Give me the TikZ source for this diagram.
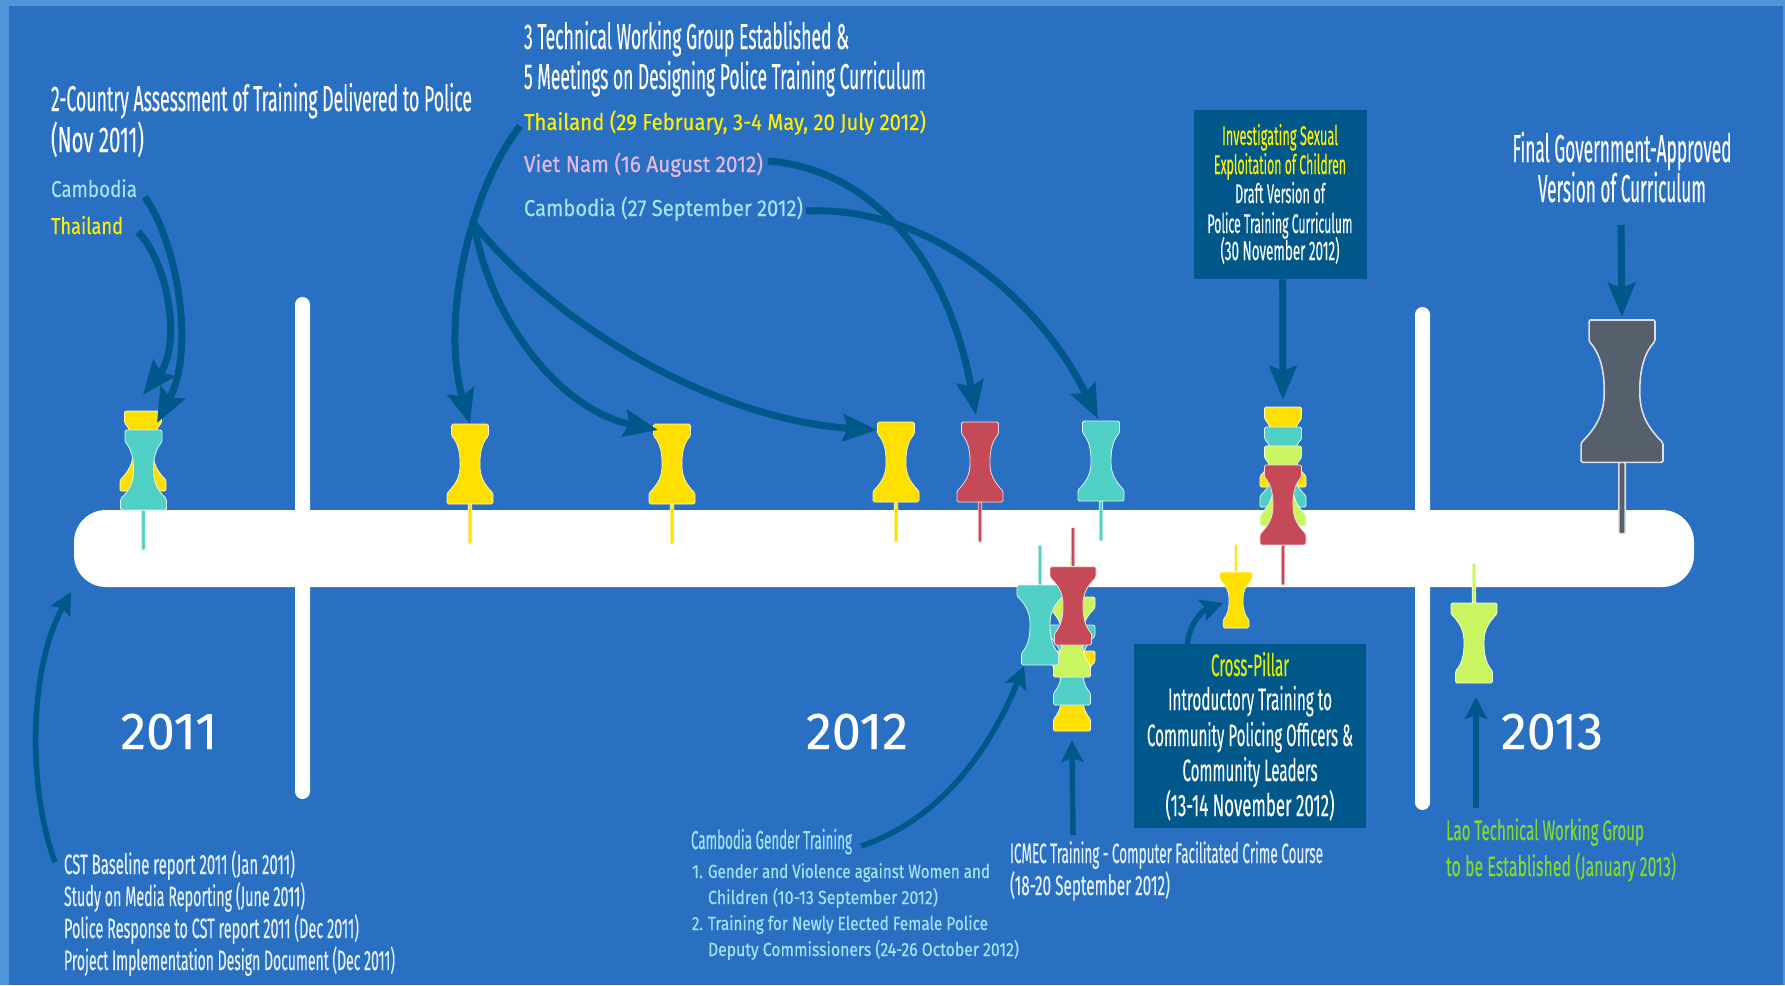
\documentclass[tikz,border=0pt]{standalone}
\usepackage{fontspec}
\usepackage{graphicx}
\setmainfont[FakeBold=0.25]{Fira Sans}
\usetikzlibrary{arrows.meta}
\definecolor{frameblue}{HTML}{5096D8}
\definecolor{bgblue}{HTML}{2970C2}
\definecolor{arrowblue}{HTML}{00588A}
\definecolor{pinyellow}{HTML}{FFE000}
\definecolor{pinteal}{HTML}{50D0C4}
\definecolor{pinlime}{HTML}{C8F560}
\definecolor{pinred}{HTML}{C44A58}
\definecolor{pingrey}{HTML}{55606C}
\definecolor{txtblue}{HTML}{A4E4F6}
\definecolor{txtyellow}{HTML}{FFF000}
\definecolor{txtpink}{HTML}{E8B8E4}
\definecolor{txtpale}{HTML}{E4F2FF}
\definecolor{txtlime}{HTML}{E4F000}
\definecolor{txtgreen}{HTML}{86D82C}
\tikzset{
  bar/.style={fill=white,draw=none},
  darkbox/.style={fill=arrowblue,draw=none,inner sep=0pt,anchor=north west},
  flow/.style={draw=arrowblue,line width=7pt,-{Stealth[length=34pt,width=27pt,inset=5pt]}},
  flowsmall/.style={draw=arrowblue,line width=5.5pt,-{Stealth[length=22pt,width=22pt,inset=4pt]}},
  txt/.style={inner sep=0pt,outer sep=0pt},
}
% \tline[anchor]{name}{x}{baseline y}{width}{size}{colour}{text}
\newcommand{\tline}[8][base west]{%
  \node[txt,anchor=#1,text=#7] (#2) at (#3,#4)
    {\resizebox{#5pt}{\height}{\fontsize{#6pt}{#6pt}\selectfont #8}};}
% \pushpin{name}{x}{head end y}{xscale}{yscale}{colour}{edge width}
\newcommand{\pushpin}[7]{%
  \begin{scope}[shift={(#2,#3)},xscale=#4,yscale=#5]
    \coordinate (#1) at (0,0);
    \draw[white!80!#6,line width=#7pt,fill=#6,rounded corners=1pt]
      (-1.8,80) -- (-1.8,120) -- (1.8,120) -- (1.8,80) -- cycle;
    \draw[white!80!#6,line width=#7pt,fill=#6,rounded corners=1.5pt]
      (-18.5,0) -- (-18.5,12) .. controls (-13,18) and (-10,27) .. (-10,40)
      .. controls (-10,52) and (-14,60) .. (-23,69) -- (-23,80) -- (23,80) -- (23,69)
      .. controls (14,60) and (10,52) .. (10,40) .. controls (10,27) and (13,18) .. (18.5,12)
      -- (18.5,0) -- cycle;
  \end{scope}}
\begin{document}
\begin{tikzpicture}[x=1pt,y=-1pt]
\useasboundingbox (0,0) rectangle (1785,985);
\fill[frameblue] (0,0) rectangle (1785,985);
\fill[bgblue] (9,6) rectangle (1783,985);

% timeline
\fill[bar,rounded corners=7.5pt] (295,297) rectangle (310,799);
\fill[bar,rounded corners=7.5pt] (1415,307) rectangle (1430,810);
\fill[bar,rounded corners=32pt] (74,510) rectangle (1694,587);

% pins above the bar
\pushpin{pinA}{143}{411}{1}{1}{pinyellow}{.8}
\pushpin{pinB}{143.5}{430}{1}{1}{pinteal}{.8}
\pushpin{pinC}{470}{424}{1}{1}{pinyellow}{.6}
\pushpin{pinD}{672}{424}{1}{1}{pinyellow}{.6}
\pushpin{pinE}{896}{422}{1}{1}{pinyellow}{.6}
\pushpin{pinF}{980}{422}{1}{1}{pinred}{.8}
\pushpin{pinG}{1101}{421}{1}{1}{pinteal}{.8}
\pushpin{pinH}{1283}{407}{1}{1}{pinyellow}{.8}
\pushpin{pinI}{1283}{427}{1}{1}{pinteal}{.8}
\pushpin{pinJ}{1283}{446}{1}{1}{pinlime}{.8}
\pushpin{pinK}{1283}{465}{1}{1}{pinred}{.8}
\pushpin{pinL}{1622}{320}{1.78}{1.78}{pingrey}{1.6}
% pins below the bar (head down)
\pushpin{pinM}{1072}{731}{1}{-1}{pinyellow}{.8}
\pushpin{pinN}{1072}{705}{1}{-1}{pinteal}{.8}
\pushpin{pinO}{1072}{677}{1}{-1}{pinlime}{.8}
\pushpin{pinP}{1040}{665}{1}{-1}{pinteal}{.8}
\pushpin{pinQ}{1073}{645}{1}{-.98}{pinred}{.8}
\pushpin{pinR}{1236}{628}{.7}{-.7}{pinyellow}{.6}
\pushpin{pinS}{1474}{683}{1}{-1}{pinlime}{.8}

% boxes
\node[darkbox,minimum width=173pt,minimum height=169pt] (boxA) at (1194,110) {};
\node[darkbox,minimum width=232pt,minimum height=184pt] (boxB) at (1134,644) {};

% free arrow ends
\coordinate (sThaiA) at (138,232);
\coordinate (sCamA) at (145,197);
\coordinate (sBase) at (55,862);
\coordinate (sThaiB) at (520,126);
\coordinate (fork) at (474,224);
\coordinate (sViet) at (768,161);
\coordinate (sCamB) at (806,211);
\coordinate (sGender) at (861,846);
\coordinate (sIcmec) at (1073,835);
\coordinate (sFinal) at (1621,225);
\coordinate (sLao) at (1476,808);
\coordinate (eBar) at (71,592);

% connectors
\draw[flow] (sThaiA) .. controls (168,262) and (182,345) .. ([yshift=16]pinA);
\draw[flow] (sCamA) .. controls (178,245) and (195,350) .. ([xshift=13.5,yshift=7]pinB);
\draw[flowsmall] (sBase) .. controls (28,790) and (28,670) .. (eBar);
\draw[flow] (sThaiB) .. controls (470,190) and (440,320) .. (pinC);
\draw[flow] (fork) .. controls (490,320) and (560,410) .. ([xshift=-14,yshift=-6]pinD);
\draw[flow] (fork) .. controls (560,330) and (720,420) .. ([xshift=-19,yshift=-8]pinE);
\draw[flow] (sViet) .. controls (880,170) and (950,270) .. ([xshift=-4,yshift=7]pinF);
\draw[flow] (sCamB) .. controls (930,205) and (1040,300) .. ([xshift=-3,yshift=2]pinG);
\draw[flow] ([xshift=2]boxA.south) -- ([yshift=7]pinH);
\draw[flow] (sFinal) -- ([yshift=3]pinL);
\draw[flowsmall] (sGender) .. controls (940,820) and (990,750) .. ([xshift=-16,yshift=-1]pinP);
\draw[flowsmall] (sIcmec) -- ([yshift=-9]pinM);
\draw[flowsmall] ([xshift=-63]boxB.north) .. controls (1190,622) and (1203,610) .. ([xshift=-13,yshift=25]pinR);
\draw[flowsmall] (sLao) -- ([xshift=2,yshift=-14]pinS);

% year labels
\tline[base]{yA}{169}{749}{97}{52}{white}{2011}
\tline[base]{yB}{857}{749}{102}{52}{white}{2012}
\tline[base]{yC}{1552}{749}{102}{52}{white}{2013}

% top left
\tline{tA}{51}{111}{421}{36}{white}{2-Country Assessment of Training Delivered to Police}
\tline{tB}{51}{152}{93}{36}{white}{(Nov 2011)}
\tline{tC}{51}{197}{86}{23}{txtblue}{Cambodia}
\tline{tD}{51}{234}{72}{23}{txtyellow}{Thailand}

% top middle
\tline{tE}{524}{49}{325}{36}{white}{3 Technical Working Group Established \&}
\tline{tF}{524}{89}{402}{36}{white}{5 Meetings on Designing Police Training Curriculum}
\tline{tG}{524}{130}{402}{23}{txtyellow}{Thailand (29 February, 3-4 May, 20 July 2012)}
\tline{tH}{524}{172}{239}{23}{txtpink}{Viet Nam (16 August 2012)}
\tline{tI}{524}{216}{279}{23}{txtblue}{Cambodia (27 September 2012)}

% box A
\tline[base]{bA}{1280}{145}{116}{27}{txtyellow}{Investigating Sexual}
\tline[base]{bB}{1280}{174}{132}{27}{txtyellow}{Exploitation of Children}
\tline[base]{bC}{1280}{203}{90}{27}{white}{Draft Version of}
\tline[base]{bD}{1280}{233}{145}{27}{white}{Police Training Curriculum}
\tline[base]{bE}{1280}{260}{119}{27}{white}{(30 November 2012)}

% final
\tline[base]{fA}{1622}{162}{219}{39}{white}{Final Government-Approved}
\tline[base]{fB}{1622}{202}{168}{39}{white}{Version of Curriculum}

% box B
\tline[base]{cA}{1250}{676}{78}{31}{txtlime}{Cross-Pillar}
\tline[base]{cB}{1250}{710}{164}{31}{white}{Introductory Training to}
\tline[base]{cC}{1250}{746}{206}{31}{white}{Community Policing Officers \&}
\tline[base]{cD}{1250}{781}{135}{31}{white}{Community Leaders}
\tline[base]{cE}{1250}{816}{169}{31}{white}{(13-14 November 2012)}

% bottom left
\tline{lA}{64}{874}{231}{28}{txtpale}{CST Baseline report 2011 (Jan 2011)}
\tline{lB}{64}{906}{241}{28}{txtpale}{Study on Media Reporting (June 2011)}
\tline{lC}{64}{938}{295}{28}{txtpale}{Police Response to CST report 2011 (Dec 2011)}
\tline{lD}{64}{970}{331}{28}{txtpale}{Project Implementation Design Document (Dec 2011)}

% gender training
\tline{gA}{691}{849}{161}{26}{txtblue}{Cambodia Gender Training}
\tline{gB}{692}{878}{11}{19}{txtblue}{1.}
\tline{gC}{708}{878}{282}{19}{txtblue}{Gender and Violence against Women and}
\tline{gD}{708}{904}{230}{19}{txtblue}{Children (10-13 September 2012)}
\tline{gE}{692}{930}{11}{19}{txtblue}{2.}
\tline{gF}{708}{930}{280}{19}{txtblue}{Training for Newly Elected Female Police}
\tline{gG}{708}{956}{311}{19}{txtblue}{Deputy Commissioners (24-26 October 2012)}

% icmec
\tline{iA}{1010}{863}{313}{28}{txtpale}{ICMEC Training - Computer Facilitated Crime Course}
\tline{iB}{1010}{895}{160}{28}{txtpale}{(18-20 September 2012)}

% lao
\tline{oA}{1446}{840}{198}{28}{txtgreen}{Lao Technical Working Group}
\tline{oB}{1446}{876}{230}{28}{txtgreen}{to be Established (January 2013)}
\end{tikzpicture}
\end{document}
